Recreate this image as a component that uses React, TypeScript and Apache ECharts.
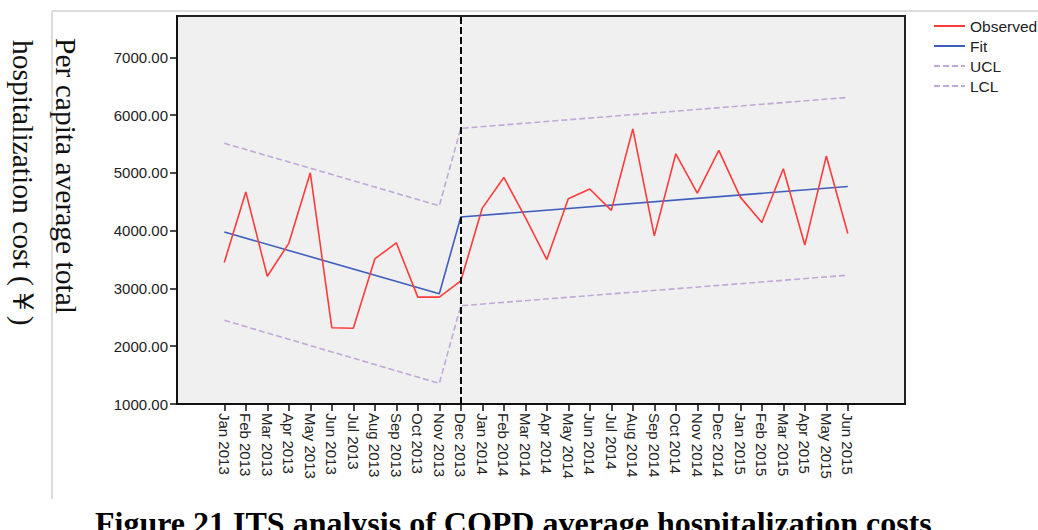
import React, { useEffect, useRef } from "react";
import * as echarts from "echarts";

const months = [
  "Jan 2013", "Feb 2013", "Mar 2013", "Apr 2013", "May 2013", "Jun 2013",
  "Jul 2013", "Aug 2013", "Sep 2013", "Oct 2013", "Nov 2013", "Dec 2013",
  "Jan 2014", "Feb 2014", "Mar 2014", "Apr 2014", "May 2014", "Jun 2014",
  "Jul 2014", "Aug 2014", "Sep 2014", "Oct 2014", "Nov 2014", "Dec 2014",
  "Jan 2015", "Feb 2015", "Mar 2015", "Apr 2015", "May 2015", "Jun 2015",
];

const observed = [
  3450, 4670, 3210, 3780, 5000, 2320, 2310, 3510, 3790, 2850, 2850, 3130,
  4390, 4920, 4230, 3500, 4550, 4720, 4350, 5760, 3910, 5330, 4650, 5390,
  4580, 4140, 5070, 3750, 5290, 3950,
];

// segment end points (month index) of the fitted lines
const segmentMonths = [0, 10, 11, 29];
const fitValues = [3977, 2908, 4236, 4764];
const uclValues = [5512, 4431, 5770, 6305];
const lclValues = [2448, 1356, 2700, 3229];

const interventionMonth = 11;
const yTicks = [1000, 2000, 3000, 4000, 5000, 6000, 7000];

const SANS = "'Liberation Sans', Arial, sans-serif";
const SERIF = "'Liberation Serif', 'Times New Roman', serif";

export default function App() {
  const ref = useRef<HTMLDivElement>(null);

  useEffect(() => {
    if (!ref.current) return;
    const chart = echarts.init(ref.current, null, { renderer: "svg" });
    const monthIdx = months.map((_, i) => i);
    const pairs = (vals: number[]) => segmentMonths.map((m, i) => [m, vals[i]]);

    chart.setOption({
      animation: false,
      backgroundColor: "#ffffff",
      grid: {
        left: 177,
        right: 133,
        top: 16,
        bottom: 126,
        show: true,
        backgroundColor: "#f0f0f0",
        borderColor: "#222",
        borderWidth: 2,
      },
      legend: {
        orient: "vertical",
        left: 933,
        top: 18,
        padding: 0,
        itemWidth: 31,
        itemHeight: 14,
        itemGap: 4,
        itemStyle: { opacity: 0, borderWidth: 0 },
        textStyle: { fontFamily: SANS, fontSize: 15.5, color: "#222" },
        data: ["Observed", "Fit", "UCL", "LCL"],
      },
      xAxis: {
        type: "value",
        min: -2.2,
        max: 31.66,
        splitLine: { show: false },
        axisLine: { onZero: false, lineStyle: { color: "#111", width: 2 } },
        axisTick: {
          length: 7,
          customValues: monthIdx,
          lineStyle: { color: "#111", width: 1.5 },
        },
        axisLabel: {
          customValues: monthIdx,
          rotate: -90,
          margin: 9,
          fontFamily: SANS,
          fontSize: 15,
          color: "#222",
          formatter: (v: number) => months[Math.round(v)] ?? "",
        },
      },
      yAxis: {
        type: "value",
        min: 1000,
        max: 7714,
        splitLine: { show: false },
        axisLine: { show: true, onZero: false, lineStyle: { color: "#111", width: 2 } },
        axisTick: {
          show: true,
          length: 7,
          customValues: yTicks,
          lineStyle: { color: "#111", width: 1.5 },
        },
        axisLabel: {
          customValues: yTicks,
          margin: 9,
          fontFamily: SANS,
          fontSize: 15,
          color: "#222",
          formatter: (v: number) => v.toFixed(2),
        },
      },
      series: [
        {
          name: "Observed",
          type: "line",
          symbol: "none",
          data: observed.map((v, i) => [i, v]),
          lineStyle: { color: "#ff3b3b", width: 1.6 },
          itemStyle: { color: "#ff3b3b" },
          markLine: {
            silent: true,
            symbol: "none",
            label: { show: false },
            lineStyle: { color: "#000", width: 2, type: [7, 3] },
            data: [{ xAxis: interventionMonth }],
          },
          z: 4,
        },
        {
          name: "Fit",
          type: "line",
          symbol: "none",
          data: pairs(fitValues),
          lineStyle: { color: "#3f5dbf", width: 1.6 },
          itemStyle: { color: "#3f5dbf" },
          z: 3,
        },
        {
          name: "UCL",
          type: "line",
          symbol: "none",
          data: pairs(uclValues),
          lineStyle: { color: "#c0a8d8", width: 1.6, type: [6, 3] },
          itemStyle: { color: "#c0a8d8" },
          z: 2,
        },
        {
          name: "LCL",
          type: "line",
          symbol: "none",
          data: pairs(lclValues),
          lineStyle: { color: "#c0a8d8", width: 1.6, type: [6, 3] },
          itemStyle: { color: "#c0a8d8" },
          z: 2,
        },
      ],
      graphic: [
        {
          type: "line",
          shape: { x1: 52, y1: 11, x2: 1038, y2: 11 },
          style: { stroke: "#dcdcdc", lineWidth: 2 },
          silent: true,
        },
        {
          type: "line",
          shape: { x1: 52, y1: 11, x2: 52, y2: 499 },
          style: { stroke: "#dcdcdc", lineWidth: 2 },
          silent: true,
        },
        {
          type: "text",
          x: 66,
          y: 38,
          rotation: -Math.PI / 2,
          style: {
            text: "Per capita average total",
            fontFamily: SERIF,
            fontSize: 29.5,
            fill: "#111",
            textAlign: "left",
            textVerticalAlign: "middle",
          },
          silent: true,
        },
        {
          type: "text",
          x: 23,
          y: 40,
          rotation: -Math.PI / 2,
          style: {
            text: "hospitalization cost (￥)",
            fontFamily: SERIF,
            fontSize: 29.5,
            fill: "#111",
            textAlign: "left",
            textVerticalAlign: "middle",
          },
          silent: true,
        },
        {
          type: "text",
          x: 95,
          y: 507,
          style: {
            text: "Figure 21 ITS analysis of COPD average hospitalization costs",
            fontFamily: SERIF,
            fontSize: 32,
            fontWeight: "bold",
            fill: "#000",
            textAlign: "left",
            textVerticalAlign: "top",
          },
          silent: true,
        },
      ],
    });

    return () => chart.dispose();
  }, []);

  return (
    <div
      ref={ref}
      style={{ position: "fixed", left: 0, top: 0, width: 1038, height: 530 }}
    />
  );
}
